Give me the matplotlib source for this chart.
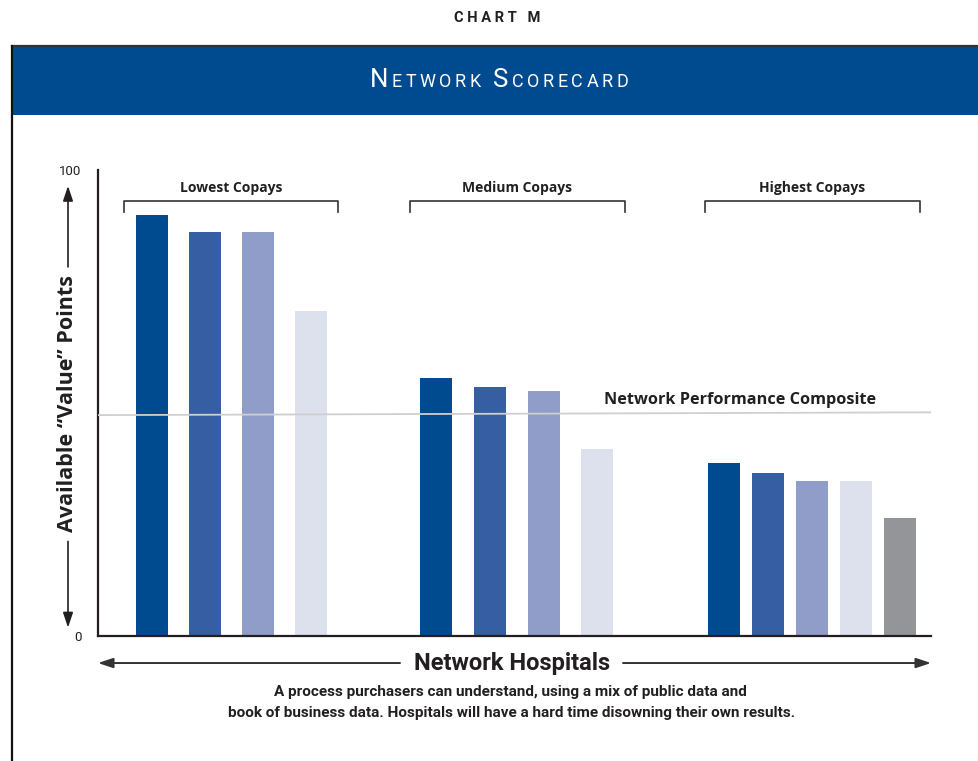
import matplotlib
matplotlib.use('Agg')
import matplotlib.pyplot as plt
from matplotlib.lines import Line2D
from matplotlib.patches import Rectangle
from matplotlib.offsetbox import TextArea, HPacker, AnnotationBbox

# data (0-100 "value" points)
groups = ['Lowest Copays', 'Medium Copays', 'Highest Copays']
lowest = [90.3, 86.7, 86.7, 69.7]
medium = [55.4, 53.4, 52.6, 40.1]
highest = [37.1, 35.0, 33.3, 33.3, 25.3]
composite = 47.7
bar_colors = ['#004a8f', '#365fa3', '#8f9dc8', '#dde1ee', '#939598']

# layout of the groups along the x axis (axis runs 0..833)
group_start = [53.5, 338, 626]
group_step = [53.3, 53.8, 44]
group_center = [133, 419.5, 714.5]
bracket_w = 215

narrow = ['Roboto', 'DejaVu Sans']
bold = ['Open Sans', 'DejaVu Sans']
dark = '#231f20'

fig = plt.figure(figsize=(9.79, 7.61), dpi=100)
W, H = 979, 761

# frame + banner
fig.add_artist(Line2D([12/W, 1], [1-45.5/H, 1-45.5/H], color='#333333', lw=1.6))
fig.add_artist(Line2D([12.5/W, 12.5/W], [0, 1-45.5/H], color='#111111', lw=1.6))
fig.add_artist(Rectangle((13.5/W, 1-115/H), 1, 68/H, color='#004a8f', lw=0))
fig.text(497/W, 1-18/H, 'C H A R T   M', ha='center', va='center', fontsize=10.5,
         fontweight='bold', family=narrow, color=dark)

# small caps banner title
letters = []
for word in ['NETWORK', 'SCORECARD']:
    for i, ch in enumerate(word):
        size = 18.5 if i == 0 else 13
        letters.append(TextArea(ch, textprops=dict(color='white', fontsize=size, family=narrow)))
    letters.append(TextArea(' ', textprops=dict(color='white', fontsize=13, family=narrow)))
letters.pop()
title = HPacker(children=letters, align='baseline', sep=2.6, pad=0)
fig.add_artist(AnnotationBbox(title, (499/W, 1-80/H), xycoords='figure fraction',
                              frameon=False, box_alignment=(0.5, 0.5)))

ax = fig.add_axes([98/W, 1-636/H, 833/W, 466/H])
ax.set_xlim(0, 833)
ax.set_ylim(0, 100)

for g, vals in enumerate([lowest, medium, highest]):
    xs = [group_start[g] + i*group_step[g] for i in range(len(vals))]
    ax.bar(xs, vals, width=32, color=bar_colors[:len(vals)], zorder=2)
    c = group_center[g]
    ax.plot([c-bracket_w/2, c-bracket_w/2, c+bracket_w/2, c+bracket_w/2],
            [91.0, 93.3, 93.3, 91.0], color='#333333', lw=1.2, zorder=3)
    ax.text(c, 96.2, groups[g], ha='center', va='center', fontsize=10,
            fontweight='bold', family=bold, color=dark)

ax.plot([0, 833], [composite-0.3, composite+0.3], color='#cfcfcf', lw=1.3, zorder=4)
ax.text(506, 50.6, 'Network Performance Composite', ha='left', va='center',
        fontsize=11.7, fontweight='bold', family=bold, color=dark)

for s in ['top', 'right']:
    ax.spines[s].set_visible(False)
for s in ['left', 'bottom']:
    ax.spines[s].set_color(dark)
    ax.spines[s].set_linewidth(1.6)
ax.set_xticks([])
ax.set_yticks([0, 100])
ax.set_yticklabels(['0', '100'], fontsize=9.5, family=narrow, color=dark)
ax.tick_params(axis='y', length=0, pad=12)

# y axis label with arrows
yt = ax.get_yaxis_transform()
ax.text(-0.037, 50, 'Available \u201cValue\u201d Points', transform=yt, rotation=90,
        ha='center', va='center', fontsize=15.5, fontweight='bold', family=bold,
        color=dark, clip_on=False)
arrow = dict(arrowstyle='-|>,head_length=0.9,head_width=0.3', color=dark, lw=1.2,
             shrinkA=0, shrinkB=0)
ax.annotate('', xy=(-0.036, 96.6), xytext=(-0.036, 79.2), xycoords=yt,
            textcoords=yt, arrowprops=arrow, annotation_clip=False)
ax.annotate('', xy=(-0.036, 1.8), xytext=(-0.036, 20.3), xycoords=yt,
            textcoords=yt, arrowprops=arrow, annotation_clip=False)

# x axis label with arrows
ax.text(414, -5.8, 'Network Hospitals', ha='center', va='center', fontsize=17,
        fontweight='bold', family=narrow, color=dark, clip_on=False)
harrow = dict(arrowstyle='-|>,head_length=0.9,head_width=0.3', color='#333333', lw=1.4,
              shrinkA=0, shrinkB=0)
ax.annotate('', xy=(0, -5.8), xytext=(302, -5.8), arrowprops=harrow, annotation_clip=False)
ax.annotate('', xy=(833, -5.8), xytext=(525, -5.8), arrowprops=harrow, annotation_clip=False)

fig.text(510/W, 1-692/H, 'A process purchasers can understand, using a mix of public data and',
         ha='center', va='center', fontsize=11, fontweight='bold', family=narrow, color=dark)
fig.text(512/W, 1-713/H, 'book of business data. Hospitals will have a hard time disowning their own results.',
         ha='center', va='center', fontsize=11, fontweight='bold', family=narrow, color=dark)

fig.savefig('out.png', dpi=100)
